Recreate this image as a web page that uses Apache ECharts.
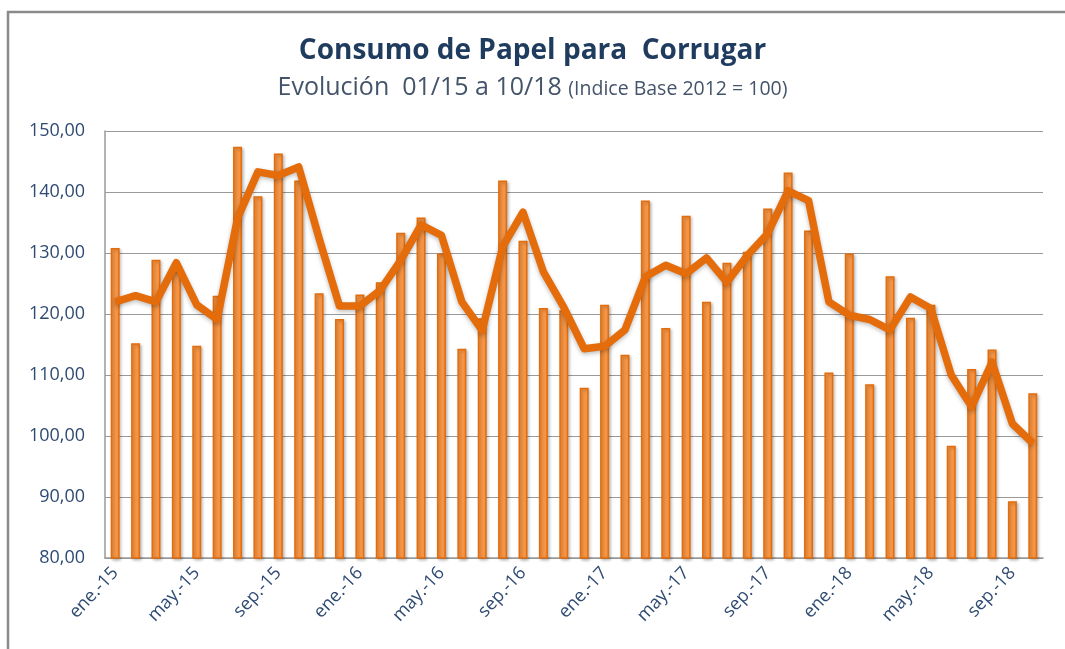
<!DOCTYPE html>
<html>
<head>
<meta charset="utf-8">
<title>Consumo de Papel para Corrugar</title>
<script src="https://cdn.jsdelivr.net/npm/echarts@6/dist/echarts.min.js"></script>
<style>
  html, body { margin: 0; padding: 0; background: #fff; }
  #chart { width: 1065px; height: 649px; }
</style>
</head>
<body>
<div id="chart"></div>
<script>
/************************ datos del gráfico *******************************/
var meses = ['ene.', 'feb.', 'mar.', 'abr.', 'may.', 'jun.', 'jul.', 'ago.', 'sep.', 'oct.', 'nov.', 'dic.'];
var anios = ['15', '16', '17', '18'];

// indice mensual (barras)
var indice = [
    130.8, 115.2, 128.9, 127.0, 114.8, 123.0, 147.4, 139.3, 146.3, 141.9, 123.4, 119.2,
    123.2, 125.2, 133.3, 135.8, 129.9, 114.3, 119.3, 141.9, 132.0, 121.0, 120.6, 107.9,
    121.5, 113.3, 138.6, 117.7, 136.1, 122.0, 128.4, 130.2, 137.3, 143.2, 133.7, 110.4,
    129.9, 108.5, 126.2, 119.4, 121.5, 98.4, 111.0, 114.2, 89.3, 107.0
];

// tendencia (linea)
var tendencia = [
    122.0, 123.0, 122.0, 128.4, 121.5, 119.1, 135.7, 143.3, 142.7, 144.1, 132.4, 121.3,
    121.3, 123.9, 128.8, 134.6, 132.9, 122.0, 117.3, 131.0, 136.7, 126.9, 121.1, 114.3,
    114.7, 117.4, 126.1, 128.0, 126.6, 129.2, 125.2, 129.6, 133.2, 140.2, 138.6, 122.0,
    119.8, 119.1, 117.4, 122.8, 120.9, 110.0, 104.8, 112.1, 102.0, 98.8
];

var yMin = 80, yMax = 150, yPaso = 10;

// categorias ene.-15 ... oct.-18
var categorias = [];
for (var a = 0; a < anios.length; a++) {
    for (var m = 0; m < meses.length; m++) {
        if (categorias.length < indice.length) categorias.push(meses[m] + '-' + anios[a]);
    }
}

/************************************** grafico ******************************************************/
var chart = echarts.init(document.getElementById('chart'));

var opt = {
    backgroundColor: '#fff',
    animation: false,
    title: [
        {text: 'Consumo de Papel para  Corrugar', left: 'center', top: 32,
         textStyle: {fontSize: 28, fontWeight: 'bold', color: '#1F3B5E', fontFamily: 'Open Sans'}},
        {text: '{a|Evolución  01/15 a 10/18 }{b|(Indice Base 2012 = 100)}', left: 'center', top: 70,
         textStyle: {fontWeight: 'normal', rich: {
             a: {fontSize: 25, color: '#44546A', fontFamily: 'Open Sans', fontWeight: 'normal'},
             b: {fontSize: 19.5, color: '#44546A', fontFamily: 'Open Sans', fontWeight: 'normal', padding: [3, 0, 0, 0]}
         }}}
    ],
    graphic: [
        {type: 'rect', shape: {x: 8, y: 12, width: 1100, height: 700},
         style: {fill: 'none', stroke: '#8a8a8a', lineWidth: 2.5}}
    ],
    grid: {left: 105, right: 22, top: 131, bottom: 91},
    xAxis: {
        type: 'category',
        data: categorias,
        axisLine: {lineStyle: {color: '#9a9a9a', width: 1.5}},
        axisTick: {show: false},
        axisLabel: {interval: 3, rotate: 47, color: '#2F4B73', fontSize: 18,
                    fontFamily: 'Open Sans', margin: 12}
    },
    yAxis: {
        type: 'value', min: yMin, max: yMax, interval: yPaso,
        axisLine: {show: true, lineStyle: {color: '#9a9a9a', width: 1.5}},
        axisTick: {show: false},
        splitLine: {lineStyle: {color: '#9a9a9a'}},
        axisLabel: {color: '#2F4B73', fontSize: 18, fontFamily: 'Open Sans', margin: 20,
                    formatter: function (v) { return v.toFixed(2).replace('.', ','); }}
    },
    series: [
        {name: 'Indice', type: 'bar', data: indice, barWidth: 9,
         itemStyle: {color: '#F79646', borderColor: '#E46C0A', borderWidth: 1.5,
                     shadowColor: 'rgba(0,0,0,0.25)', shadowBlur: 3, shadowOffsetX: 1.5, shadowOffsetY: 1.5}},
        {name: 'Tendencia', type: 'line', data: tendencia, symbol: 'none', z: 3,
         lineStyle: {color: '#E46C0A', width: 7.5, join: 'round',
                     shadowColor: 'rgba(0,0,0,0.25)', shadowBlur: 4, shadowOffsetY: 2}}
    ]
};

chart.setOption(opt);
</script>
</body>
</html>
